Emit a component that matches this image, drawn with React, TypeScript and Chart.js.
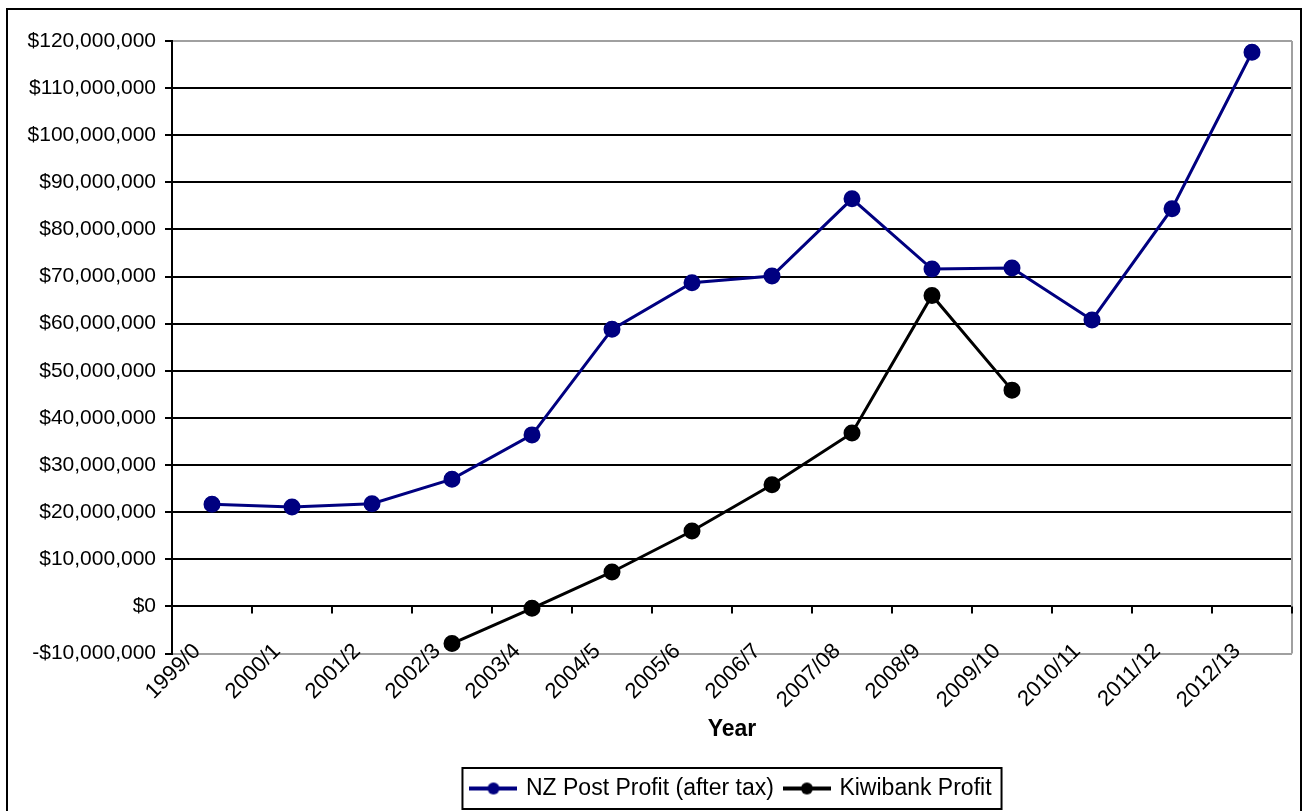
import React, { useEffect, useRef } from "react";
import { Chart, registerables } from "chart.js";

Chart.register(...registerables);

const categories = [
  "1999/0", "2000/1", "2001/2", "2002/3", "2003/4", "2004/5", "2005/6",
  "2006/7", "2007/08", "2008/9", "2009/10", "2010/11", "2011/12", "2012/13",
];

const nzPostProfit = [
  21700000, 21100000, 21800000, 27000000, 36400000, 58800000, 68700000,
  70100000, 86500000, 71600000, 71800000, 60800000, 84400000, 117600000,
];

const kiwibankProfit = [
  null, null, null, -7900000, -400000, 7300000, 16000000,
  25800000, 36800000, 66000000, 45900000, null, null, null,
];

const seriesNames = ["NZ Post Profit (after tax)", "Kiwibank Profit"];
const seriesColors = ["#000080", "#000000"];

const yMin = -10000000;
const yMax = 120000000;
const yStep = 10000000;
const xTitle = "Year";

const FONT = "'Liberation Sans', Arial, sans-serif";

function formatDollar(v: number): string {
  const abs = Math.abs(v).toLocaleString("en-US");
  return (v < 0 ? "-$" : "$") + abs;
}

function makeMarker(color: string): HTMLCanvasElement {
  const c = document.createElement("canvas");
  c.width = 48;
  c.height = 16;
  const ctx = c.getContext("2d")!;
  ctx.strokeStyle = color;
  ctx.lineWidth = 4;
  ctx.beginPath();
  ctx.moveTo(0, 8);
  ctx.lineTo(48, 8);
  ctx.stroke();
  ctx.fillStyle = color;
  ctx.beginPath();
  ctx.arc(24, 8, 6, 0, Math.PI * 2);
  ctx.fill();
  return c;
}

const decorPlugin = {
  id: "decor",
  beforeDatasetsDraw(chart: any) {
    const { ctx, chartArea } = chart;
    const xs = chart.scales.x;
    const ys = chart.scales.y;
    ctx.save();
    ctx.strokeStyle = "#a0a0a0";
    ctx.lineWidth = 2;
    ctx.beginPath();
    ctx.moveTo(chartArea.right, chartArea.top);
    ctx.lineTo(chartArea.right, chartArea.bottom);
    ctx.stroke();
    const y0 = ys.getPixelForValue(0);
    const step = xs.getPixelForValue(1) - xs.getPixelForValue(0);
    ctx.strokeStyle = "#000";
    ctx.lineWidth = 2;
    for (let i = 0; i < categories.length; i++) {
      const x = xs.getPixelForValue(i) + step / 2;
      ctx.beginPath();
      ctx.moveTo(x, y0);
      ctx.lineTo(x, y0 + 7);
      ctx.stroke();
    }
    ctx.restore();
  },
  afterDraw(chart: any) {
    const { ctx } = chart;
    ctx.save();
    ctx.strokeStyle = "#000";
    ctx.lineWidth = 2;
    ctx.strokeRect(7, 9, 1294, 820);
    const hb = chart.legend && chart.legend.legendHitBoxes;
    if (hb && hb.length) {
      const first = hb[0];
      const last = hb[hb.length - 1];
      const left = first.left - 10;
      const right = last.left + last.width + 10;
      const top = first.top - 9;
      const bottom = first.top + first.height + 9;
      ctx.strokeRect(left, top, right - left, bottom - top);
    }
    ctx.restore();
  },
};

export default function App() {
  const ref = useRef<HTMLCanvasElement>(null);

  useEffect(() => {
    if (!ref.current) return;
    const markers = seriesColors.map(makeMarker);
    const chart = new Chart(ref.current, {
      type: "line",
      data: {
        labels: categories,
        datasets: [
          {
            label: seriesNames[0],
            data: nzPostProfit,
            borderColor: seriesColors[0],
            backgroundColor: seriesColors[0],
            borderWidth: 3,
            pointRadius: 7,
            pointStyle: "circle",
            pointBackgroundColor: seriesColors[0],
            pointBorderColor: seriesColors[0],
            tension: 0,
          },
          {
            label: seriesNames[1],
            data: kiwibankProfit,
            borderColor: seriesColors[1],
            backgroundColor: seriesColors[1],
            borderWidth: 3,
            pointRadius: 7,
            pointStyle: "circle",
            pointBackgroundColor: seriesColors[1],
            pointBorderColor: seriesColors[1],
            tension: 0,
            spanGaps: false,
          },
        ],
      },
      options: {
        animation: false,
        responsive: false,
        layout: { padding: { left: 0, right: 15, top: 41, bottom: 1 } },
        plugins: {
          tooltip: { enabled: false },
          legend: {
            position: "bottom",
            fullSize: false,
            labels: {
              usePointStyle: true,
              pointStyleWidth: 42,
              padding: 12,
              color: "#000",
              font: { family: FONT, size: 23 },
              generateLabels(chart: any) {
                const items = Chart.defaults.plugins.legend.labels.generateLabels(chart);
                items.forEach((it: any, i: number) => {
                  it.pointStyle = markers[i];
                });
                return items;
              },
            },
          },
        },
        scales: {
          x: {
            offset: true,
            grid: { display: false, drawTicks: false },
            border: { display: false },
            afterFit(scale: any) {
              scale._computeLabelArea = () => undefined;
            },
            ticks: {
              autoSkip: false,
              minRotation: 45,
              maxRotation: 45,
              labelOffset: -15,
              padding: -15,
              color: "#000",
              font: { family: FONT, size: 22 },
            },
            title: {
              display: true,
              text: xTitle,
              color: "#000",
              font: { family: FONT, size: 23, weight: "bold" },
              padding: { top: 17, bottom: 22 },
            },
          },
          y: {
            min: yMin,
            max: yMax,
            afterFit(scale: any) {
              scale.width = 172;
            },
            ticks: {
              stepSize: yStep,
              padding: 9,
              color: "#000",
              font: { family: FONT, size: 21 },
              callback: (v: any) => formatDollar(Number(v)),
            },
            grid: {
              color: (c: any) =>
                c.tick && (c.tick.value === yMax || c.tick.value === yMin) ? "#a0a0a0" : "#000",
              lineWidth: 2,
              tickLength: 7,
              tickColor: "#000",
            },
            border: { display: true, color: "#000", width: 2 },
          },
        },
      },
      plugins: [decorPlugin],
    } as any);
    return () => chart.destroy();
  }, []);

  return (
    <canvas
      ref={ref}
      width={1307}
      height={811}
      style={{ position: "absolute", left: 0, top: 0, display: "block", background: "#fff" }}
    />
  );
}
